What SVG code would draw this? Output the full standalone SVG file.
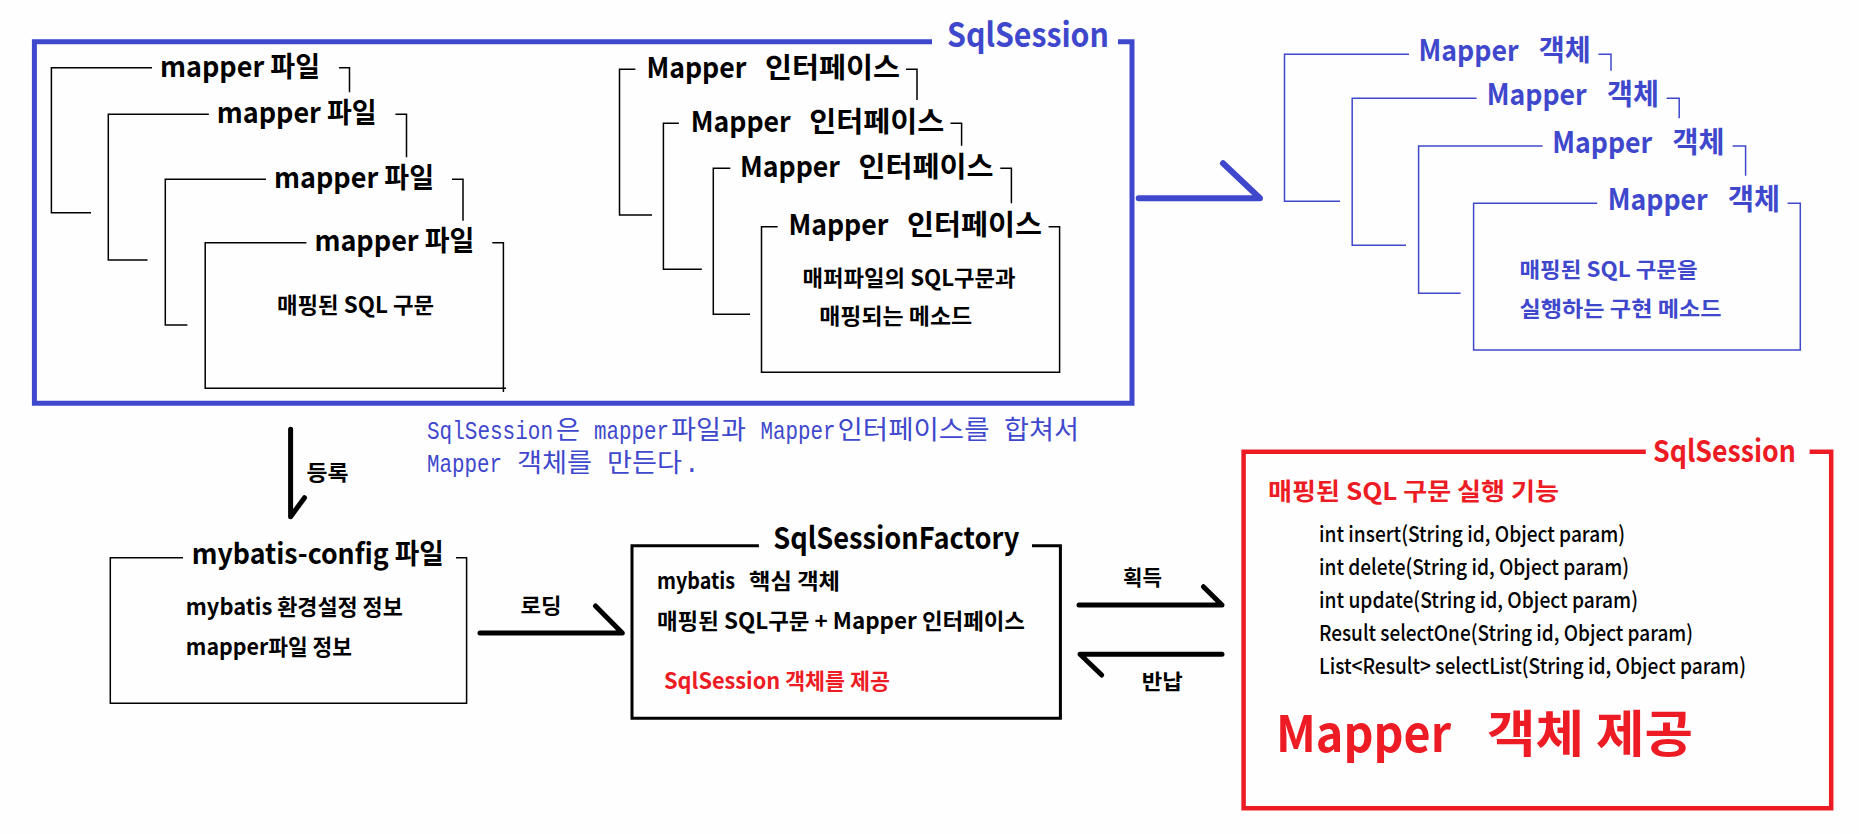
<svg xmlns="http://www.w3.org/2000/svg" width="1859" height="834" viewBox="0 0 1859 834">
<style>
  text { font-family: "Noto Sans CJK KR", "Noto Sans", sans-serif; font-weight: 700; }
  .thin { fill: none; stroke: #000; stroke-width: 1.5; }
  .thinb { fill: none; stroke: #3f48cc; stroke-width: 1.5; }
  .arrow { fill: none; stroke: #000; stroke-width: 5; stroke-linecap: round; stroke-linejoin: round; }
  .t28 { font-size: 28px; fill: #000; }
  .t22 { font-size: 22px; fill: #000; }
  .b29 { font-size: 29px; fill: #3f48cc; }
  .b21 { font-size: 21px; fill: #3f48cc; }
  .lbl { font-size: 21px; fill: #000; }
  .m { font-size: 22px; fill: #000; font-weight: 500; }
  .mono { font-family: "Liberation Mono", "Noto Sans CJK KR", monospace; font-weight: 400; font-size: 26px; fill: #3f48cc; }
  .red { fill: #ed1c24; }
</style>
<rect width="1859" height="834" fill="#fefefe"/>

<g id="sqlsession-main">
  <path d="M932,41.7 H34.4 V403.3 H1132 V41.7 H1118" fill="none" stroke="#3f48cc" stroke-width="5"/>
  <text x="947" y="46.7" font-size="33" fill="#3f48cc" textLength="162" lengthAdjust="spacingAndGlyphs">SqlSession</text>
</g>

<g id="mapper-file-1">
  <path class="thin" d="M152,67.7 H51.4 V212.7 H91 M339,67.7 H349.5 V92.3"/>
  <text class="t28" x="160" y="76.7" textLength="160" lengthAdjust="spacingAndGlyphs">mapper 파일</text>
</g>
<g id="mapper-file-2">
  <path class="thin" d="M208.8,114.3 H108.3 V260 H147.5 M395.4,114.3 H406.5 V157.3"/>
  <text class="t28" x="216.7" y="123.3" textLength="160" lengthAdjust="spacingAndGlyphs">mapper 파일</text>
</g>
<g id="mapper-file-3">
  <path class="thin" d="M266,179.3 H165.3 V325 H187.4 M452,179.3 H463 V220.7"/>
  <text class="t28" x="274" y="188.3" textLength="160" lengthAdjust="spacingAndGlyphs">mapper 파일</text>
</g>
<g id="mapper-file-4">
  <path class="thin" d="M306.4,242.7 H205.2 V388.3 H506 M492.3,242.7 H503.4 V392"/>
  <text class="t28" x="314.4" y="250.7" textLength="160" lengthAdjust="spacingAndGlyphs">mapper 파일</text>
  <text class="t22" x="277" y="313.3" textLength="157" lengthAdjust="spacingAndGlyphs">매핑된 SQL 구문</text>
</g>

<g id="mapper-if-1">
  <path class="thin" d="M635.4,69.3 H619.5 V215 H652 M906,69.3 H917 V100"/>
  <text class="t28" y="78.3"><tspan x="646.4" textLength="100" lengthAdjust="spacingAndGlyphs">Mapper</tspan><tspan x="765" textLength="135" lengthAdjust="spacingAndGlyphs">인터페이스</tspan></text>
</g>
<g id="mapper-if-2">
  <path class="thin" d="M678.9,123.3 H663.4 V269.3 H701.8 M950.5,123.3 H961.6 V145.7"/>
  <text class="t28" y="132.3"><tspan x="690.7" textLength="100" lengthAdjust="spacingAndGlyphs">Mapper</tspan><tspan x="809.3" textLength="135" lengthAdjust="spacingAndGlyphs">인터페이스</tspan></text>
</g>
<g id="mapper-if-3">
  <path class="thin" d="M730.3,168.3 H713.3 V314.3 H750 M1000.3,168.3 H1011.4 V203.3"/>
  <text class="t28" y="176.7"><tspan x="740" textLength="100" lengthAdjust="spacingAndGlyphs">Mapper</tspan><tspan x="858.6" textLength="135" lengthAdjust="spacingAndGlyphs">인터페이스</tspan></text>
</g>
<g id="mapper-if-4">
  <path class="thin" d="M777.7,226.7 H761.5 V372.3 H1059.6 V226.7 H1048.6"/>
  <text class="t28" y="235"><tspan x="788.4" textLength="100" lengthAdjust="spacingAndGlyphs">Mapper</tspan><tspan x="907" textLength="135" lengthAdjust="spacingAndGlyphs">인터페이스</tspan></text>
  <text class="t22" x="802.6" y="286" textLength="213" lengthAdjust="spacingAndGlyphs">매퍼파일의 SQL구문과</text>
  <text class="t22" x="819.2" y="324.3" textLength="153" lengthAdjust="spacingAndGlyphs">매핑되는 메소드</text>
</g>

<g id="mapper-obj-1">
  <path class="thinb" d="M1409,54.3 H1284.5 V201.3 H1340 M1598.5,54.3 H1611 V70.7"/>
  <text class="b29" y="61"><tspan x="1418.6" textLength="100" lengthAdjust="spacingAndGlyphs">Mapper</tspan><tspan x="1538.8" textLength="52" lengthAdjust="spacingAndGlyphs">객체</tspan></text>
</g>
<g id="mapper-obj-2">
  <path class="thinb" d="M1476.6,98.3 H1352.2 V245.3 H1406 M1666.6,98.3 H1679.2 V118.3"/>
  <text class="b29" y="105"><tspan x="1486.7" textLength="100" lengthAdjust="spacingAndGlyphs">Mapper</tspan><tspan x="1606.9" textLength="52" lengthAdjust="spacingAndGlyphs">객체</tspan></text>
</g>
<g id="mapper-obj-3">
  <path class="thinb" d="M1542.6,146 H1418.6 V293.3 H1460.6 M1732.6,146 H1745.6 V175.7"/>
  <text class="b29" y="152.7"><tspan x="1552.2" textLength="100" lengthAdjust="spacingAndGlyphs">Mapper</tspan><tspan x="1672.4" textLength="52" lengthAdjust="spacingAndGlyphs">객체</tspan></text>
</g>
<g id="mapper-obj-4">
  <path class="thinb" d="M1597.2,203.3 H1473.6 V350 H1800.3 V203.3 H1787.6"/>
  <text class="b29" y="210"><tspan x="1607.7" textLength="100" lengthAdjust="spacingAndGlyphs">Mapper</tspan><tspan x="1727.9" textLength="52" lengthAdjust="spacingAndGlyphs">객체</tspan></text>
  <text class="b21" x="1519.5" y="276.7" textLength="178" lengthAdjust="spacingAndGlyphs">매핑된 SQL 구문을</text>
  <text class="b21" x="1519.5" y="316" textLength="202" lengthAdjust="spacingAndGlyphs">실행하는 구현 메소드</text>
</g>

<g id="note">
  <text class="mono" y="439.3"><tspan x="427" textLength="126" lengthAdjust="spacingAndGlyphs">SqlSession</tspan><tspan x="556" textLength="24" lengthAdjust="spacingAndGlyphs">은</tspan><tspan x="594" textLength="75" lengthAdjust="spacingAndGlyphs">mapper</tspan><tspan x="671" textLength="75" lengthAdjust="spacingAndGlyphs">파일과</tspan><tspan x="760.5" textLength="75" lengthAdjust="spacingAndGlyphs">Mapper</tspan><tspan x="837.5" textLength="152" lengthAdjust="spacingAndGlyphs">인터페이스를</tspan><tspan x="1004" textLength="75" lengthAdjust="spacingAndGlyphs">합쳐서</tspan></text>
  <text class="mono" y="471.7"><tspan x="427" textLength="75" lengthAdjust="spacingAndGlyphs">Mapper</tspan><tspan x="517" textLength="75" lengthAdjust="spacingAndGlyphs">객체를</tspan><tspan x="607" textLength="75" lengthAdjust="spacingAndGlyphs">만든다</tspan><tspan x="684">.</tspan></text>
</g>

<g id="mybatis-config">
  <path class="thin" d="M183,557.7 H110.3 V703.3 H466.6 V557.7 H456"/>
  <text class="t28" x="191.8" y="564" textLength="252" lengthAdjust="spacingAndGlyphs">mybatis-config 파일</text>
  <text class="t22" x="185.8" y="615" textLength="217" lengthAdjust="spacingAndGlyphs">mybatis 환경설정 정보</text>
  <text class="t22" x="185.8" y="655" textLength="166" lengthAdjust="spacingAndGlyphs">mapper파일 정보</text>
</g>

<g id="sqlsessionfactory">
  <path d="M758.9,545.7 H632 V718.3 H1060.4 V545.7 H1032" fill="none" stroke="#000" stroke-width="3"/>
  <text x="773.3" y="549" font-size="30" fill="#000" textLength="246" lengthAdjust="spacingAndGlyphs">SqlSessionFactory</text>
  <text class="t22" y="589.3"><tspan x="657" textLength="78" lengthAdjust="spacingAndGlyphs">mybatis</tspan><tspan x="749" textLength="91" lengthAdjust="spacingAndGlyphs">핵심 객체</tspan></text>
  <text class="t22" x="657" y="629.3" textLength="368" lengthAdjust="spacingAndGlyphs">매핑된 SQL구문 + Mapper 인터페이스</text>
  <text class="t22 red" x="664" y="689.3" textLength="226" lengthAdjust="spacingAndGlyphs">SqlSession 객체를 제공</text>
</g>

<g id="sqlsession-red">
  <path d="M1645.8,451.7 H1243.6 V808.3 H1831.2 V451.7 H1809.6" fill="none" stroke="#ed1c24" stroke-width="4.5"/>
  <text class="red" x="1653" y="462.3" font-size="30" textLength="143" lengthAdjust="spacingAndGlyphs">SqlSession</text>
  <text class="red" x="1268" y="500" font-size="24" textLength="291" lengthAdjust="spacingAndGlyphs">매핑된 SQL 구문 실행 기능</text>
  <text class="m" x="1319" y="542.3" textLength="306" lengthAdjust="spacingAndGlyphs">int insert(String id, Object param)</text>
  <text class="m" x="1319" y="575" textLength="310" lengthAdjust="spacingAndGlyphs">int delete(String id, Object param)</text>
  <text class="m" x="1319" y="607.7" textLength="319" lengthAdjust="spacingAndGlyphs">int update(String id, Object param)</text>
  <text class="m" x="1319" y="640.7" textLength="374" lengthAdjust="spacingAndGlyphs">Result selectOne(String id, Object param)</text>
  <text class="m" x="1319" y="674" textLength="427" lengthAdjust="spacingAndGlyphs">List&lt;Result&gt; selectList(String id, Object param)</text>
  <text class="red" y="751.7" font-size="50"><tspan x="1276" textLength="175" lengthAdjust="spacingAndGlyphs">Mapper</tspan><tspan x="1487" textLength="206" lengthAdjust="spacingAndGlyphs">객체 제공</tspan></text>
</g>

<g id="connectors">
  <path d="M1138.7,198.3 H1260 L1223,163.3" fill="none" stroke="#3f48cc" stroke-width="6" stroke-linecap="round" stroke-linejoin="round"/>
  <path class="arrow" d="M290.6,429.3 V516.7 L304.5,497.7"/>
  <text class="lbl" x="306.4" y="480" textLength="42" lengthAdjust="spacingAndGlyphs">등록</text>
  <path class="arrow" d="M480,633 H622.3 L595.5,606"/>
  <text class="lbl" x="520.5" y="612.7" textLength="41" lengthAdjust="spacingAndGlyphs">로딩</text>
  <path class="arrow" d="M1079,605 H1222 L1203.4,586.7"/>
  <text class="lbl" x="1123" y="585" textLength="39" lengthAdjust="spacingAndGlyphs">획득</text>
  <path class="arrow" d="M1222,654.3 H1080 L1101.7,675"/>
  <text class="lbl" x="1141.8" y="689.3" textLength="41" lengthAdjust="spacingAndGlyphs">반납</text>
</g>
</svg>
